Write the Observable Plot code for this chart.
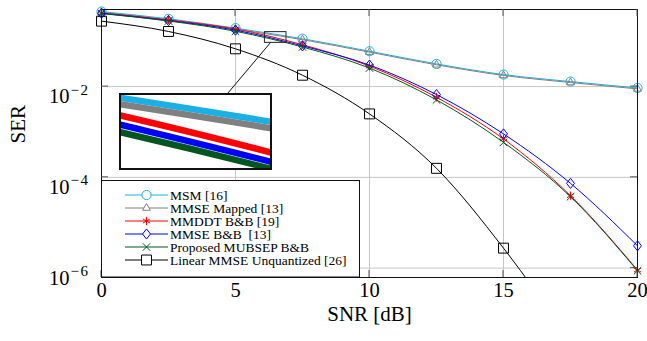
<!DOCTYPE html>
<html><head><meta charset="utf-8">
<script src="https://cdn.jsdelivr.net/npm/d3@7"></script>
<script src="https://cdn.jsdelivr.net/npm/@observablehq/plot@0.6"></script>
<style>html,body{margin:0;padding:0;background:#fff;}</style>
</head><body><div id="chart"></div>
<script>
// ---- data ----
const snr = [0, 2.5, 5, 7.5, 10, 12.5, 15, 17.5, 20];
const serMSM = [0.45, 0.312, 0.194, 0.1135, 0.0601, 0.0316, 0.0184, 0.0129, 0.00933];
const serMMSEMapped = [0.433, 0.298, 0.185, 0.1083, 0.0574, 0.0302, 0.0176, 0.0123, 0.0089];
const serMMDDT = [0.418, 0.295, 0.186, 0.0836, 0.0283, 0.00581, 7.01e-4, 3.94e-5, 9.04e-7];
const serMMSEBB = [0.412, 0.285, 0.175, 0.0789, 0.0298, 0.00667, 9.06e-4, 7.36e-5, 3.10e-6];
const serProposed = [0.407, 0.279, 0.1656, 0.0745, 0.0256, 0.00509, 5.9e-4, 3.74e-5, 8.73e-7];
const snrLinear = [0, 2.5, 5, 7.5, 10, 12.5, 15, 17.5];
const serLinear = [0.277, 0.164, 0.068, 0.0178, 0.0025, 1.58e-4, 2.75e-6, 2.5e-8];

const names = ["MSM [16]", "MMSE Mapped [13]", "MMDDT B&B [19]", "MMSE B&B  [13]", "Proposed MUBSEP B&B", "Linear MMSE Unquantized [26]"];
const colors = ["#1ab0e6", "#808080", "#ff0000", "#0000ff", "#03561f", "#000000"];

const xTicks = [0, 5, 10, 15, 20];
const yTicks = [1e-2, 1e-4, 1e-6];
const xDomain = [0, 20];
const yDomain = [6.2e-7, 0.5];
// spy (zoom) region in data coordinates
const spyX = [6.0975, 6.9025];
const spyY = [Math.pow(10, -1.036), Math.pow(10, -0.800)];

const FONT = "'Liberation Serif', 'Times New Roman', Times, serif";

// ---- symbols ----
const diamondSym = {draw(ctx, size) {
  const r = Math.sqrt(size / Math.PI), h = r * 1.15, w = r * 0.9;
  ctx.moveTo(0, -h); ctx.lineTo(w, 0); ctx.lineTo(0, h); ctx.lineTo(-w, 0); ctx.closePath();
}};
const symbols = [d3.symbolCircle, d3.symbolTriangle, d3.symbolAsterisk, diamondSym, d3.symbolTimes, d3.symbolSquare];
const radii = [4.6, 2.9, 3.9, 4.4, 3.5, 5.6];

const xs = [snr, snr, snr, snr, snr, snrLinear];
const ys = [serMSM, serMMSEMapped, serMMDDT, serMMSEBB, serProposed, serLinear];
const series = names.map((name, i) => ({
  name, color: colors[i], symbol: symbols[i], r: radii[i],
  rows: xs[i].map((x, j) => ({snr: x, ser: ys[i][j]}))
}));

const marks = [
  Plot.gridX(xTicks, {stroke: "#c6c6c6", strokeOpacity: 1}),
  Plot.gridY(yTicks, {stroke: "#c6c6c6", strokeOpacity: 1})
];
for (const s of series) {
  marks.push(Plot.line(s.rows, {x: "snr", y: "ser", stroke: s.color, strokeWidth: 1, curve: "monotone-x", clip: true}));
  marks.push(Plot.dot(s.rows.filter(d => d.ser >= yDomain[0] && d.snr <= xDomain[1]),
    {x: "snr", y: "ser", symbol: s.symbol, r: s.r, stroke: s.color, strokeWidth: 1, fill: "none"}));
}
marks.push(
  Plot.rect([{}], {x1: spyX[0], x2: spyX[1], y1: spyY[0], y2: spyY[1], fill: "none", stroke: "#222", strokeWidth: 1}),
  Plot.frame({stroke: "#111", strokeWidth: 1}),
  Plot.axisX({ticks: xTicks, tickSize: 0, tickPadding: 4.5, label: null, fontSize: 20.5}),
  Plot.axisY({ticks: yTicks, tickSize: 0, tickPadding: 12, label: null,
    tickFormat: d => "10^" + Math.round(Math.log10(d))}),
  Plot.text(["SNR [dB]"], {frameAnchor: "bottom", dy: 43, fontSize: 21}),
  Plot.text(["SER"], {frameAnchor: "left", dx: -83, rotate: -90, fontSize: 21})
);

const chart = Plot.plot({
  width: 647, height: 341,
  marginLeft: 101, marginRight: 10, marginTop: 9, marginBottom: 64,
  x: {domain: xDomain},
  y: {type: "log", domain: yDomain},
  style: {fontSize: "20.5px", color: "black", background: "white"},
  marks
});
document.getElementById("chart").appendChild(chart);
chart.setAttribute("font-family", FONT);
chart.style.fontFamily = FONT;

const root = d3.select(chart);
const X = chart.scale("x"), Y = chart.scale("y");
const fx0 = X.apply(xDomain[0]), fx1 = X.apply(xDomain[1]);
const fy0 = Y.apply(yDomain[1]), fy1 = Y.apply(yDomain[0]);

// y tick labels with superscripts
root.selectAll('g[aria-label="y-axis tick label"] text').each(function() {
  const e = this.textContent.split("^")[1];
  const t = d3.select(this);
  t.text(null).attr("dy", null).attr("font-size", 20.5);
  t.append("tspan").attr("dy", 10).text("10");
  t.append("tspan").attr("dy", -8.5).attr("dx", 1).attr("font-size", 15).attr("letter-spacing", 1.5)
    .text(e.replace("-", "\u2212"));
});

// inward tick marks on all four sides
const tk = root.append("g").attr("stroke", "#555").attr("stroke-width", 1);
for (const v of xTicks) {
  const x = X.apply(v);
  tk.append("line").attr("x1", x).attr("x2", x).attr("y1", fy1).attr("y2", fy1 - 7);
  tk.append("line").attr("x1", x).attr("x2", x).attr("y1", fy0).attr("y2", fy0 + 7);
}
for (const v of yTicks) {
  const y = Y.apply(v);
  tk.append("line").attr("y1", y).attr("y2", y).attr("x1", fx0).attr("x2", fx0 + 7);
  tk.append("line").attr("y1", y).attr("y2", y).attr("x1", fx1).attr("x2", fx1 - 7);
}

// magnified inset
const inset = {left: 120, top: 94, width: 151, height: 75};
const insetPlot = Plot.plot({
  width: inset.width, height: inset.height, margin: 0,
  x: {domain: spyX, axis: null},
  y: {type: "log", domain: spyY, axis: null},
  marks: series.map(s => Plot.line(s.rows, {x: "snr", y: "ser", stroke: s.color, strokeWidth: 6.5, curve: "monotone-x", clip: true}))
});
insetPlot.setAttribute("style", `width:${inset.width}px;height:${inset.height}px;overflow:hidden;max-width:none`);
insetPlot.setAttribute("x", inset.left);
insetPlot.setAttribute("y", inset.top);
root.append("rect").attr("x", inset.left).attr("y", inset.top).attr("width", inset.width).attr("height", inset.height).attr("fill", "white");
chart.appendChild(insetPlot);
root.append("rect").attr("x", inset.left).attr("y", inset.top).attr("width", inset.width).attr("height", inset.height)
  .attr("fill", "none").attr("stroke", "#111").attr("stroke-width", 2);

// connector between spy box and inset (centre to centre, clipped at both boxes)
const sxa = X.apply(spyX[0]), sxb = X.apply(spyX[1]), sya = Y.apply(spyY[1]), syb = Y.apply(spyY[0]);
const c1 = [(sxa + sxb) / 2, (sya + syb) / 2], h1 = [(sxb - sxa) / 2, (syb - sya) / 2];
const c2 = [inset.left + inset.width / 2, inset.top + inset.height / 2], h2 = [inset.width / 2, inset.height / 2];
const dv = [c2[0] - c1[0], c2[1] - c1[1]];
const t1 = Math.min(h1[0] / Math.abs(dv[0]), h1[1] / Math.abs(dv[1]));
const t2 = Math.min(h2[0] / Math.abs(dv[0]), h2[1] / Math.abs(dv[1]));
root.append("line")
  .attr("x1", c1[0] + t1 * dv[0]).attr("y1", c1[1] + t1 * dv[1])
  .attr("x2", c2[0] - t2 * dv[0]).attr("y2", c2[1] - t2 * dv[1])
  .attr("stroke", "#111").attr("stroke-width", 1);

// legend
const lg = root.append("g").attr("font-size", "13.5px");
lg.append("rect").attr("x", fx0 + 0.5).attr("y", 180.5).attr("width", 258).attr("height", fy1 - 180.5)
  .attr("fill", "white").attr("stroke", "#111");
series.forEach((s, i) => {
  const cy = 195 + 13 * i;
  lg.append("line").attr("x1", 125).attr("x2", 168).attr("y1", cy).attr("y2", cy).attr("stroke", s.color).attr("stroke-width", 1);
  lg.append("path").attr("d", d3.symbol(s.symbol, Math.PI * s.r * s.r)())
    .attr("transform", `translate(146.5,${cy})`).attr("fill", "white").attr("stroke", s.color);
  lg.append("text").attr("x", 170).attr("y", cy + 4.5).attr("fill", "black")
    .attr("text-anchor", "start").style("white-space", "pre").text(s.name);
});

// serif font on every text
root.selectAll("text").style("font-family", FONT);
</script>
</body></html>
